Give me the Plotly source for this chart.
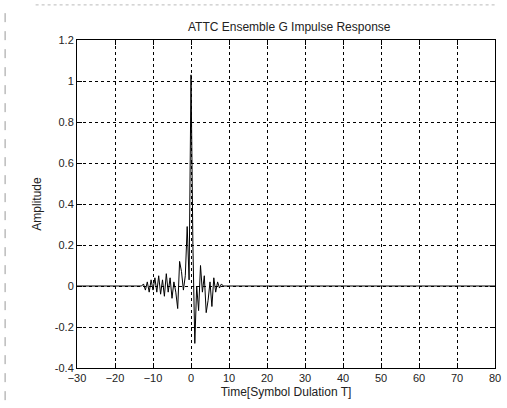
import plotly.graph_objects as go

# Time axis in symbol durations (T) and impulse response amplitude
time = [-30, -13, -12.5, -12, -11.5, -11, -10.5, -10, -9.5, -9, -8.5, -8, -7.5, -7,
        -6.5, -6, -5.5, -5, -4.5, -4, -3.5, -3, -2.5, -2, -1.5, -1, -0.5, 0, 0.5,
        1, 1.5, 2, 2.5, 3, 3.5, 4, 4.5, 5, 5.5, 6, 6.5, 7, 7.5, 8, 8.5, 9, 80]
amplitude = [0.0, 0.0, 0.01, -0.02, 0.02, -0.03, 0.03, -0.02, 0.04, -0.03, 0.05, -0.04,
             0.03, -0.05, 0.06, -0.03, 0.04, -0.06, 0.02, -0.03, -0.11, 0.12, 0.07,
             -0.02, 0.05, 0.29, 0.03, 1.03, 0.2, -0.28, 0.0, -0.12, 0.1, -0.03, 0.05,
             -0.13, -0.07, 0.02, -0.1, 0.04, -0.03, 0.02, -0.01, 0.01, 0.0, 0.0, 0.0]

x_ticks = [-30, -20, -10, 0, 10, 20, 30, 40, 50, 60, 70, 80]
y_ticks = [-0.4, -0.2, 0, 0.2, 0.4, 0.6, 0.8, 1, 1.2]
y_tick_text = ["-0.4", "-0.2", "0", "0.2", "0.4", "0.6", "0.8", "1", "1.2"]

fig = go.Figure()
fig.add_trace(go.Scatter(x=time, y=amplitude, mode="lines",
                         line=dict(color="black", width=1), showlegend=False))

font = "Liberation Sans, Arial, sans-serif"
axis_common = dict(
    showline=True, linecolor="black", linewidth=1, mirror="ticks",
    ticks="inside", ticklen=5, tickcolor="black",
    showgrid=True, gridcolor="black", gridwidth=1, griddash="dot",
    zeroline=False, tickfont=dict(family=font, size=11, color="#222"),
    ticklabeloverflow="allow",
)

fig.update_xaxes(range=[-30, 80], tickvals=x_ticks, **axis_common,
                 title=dict(text="Time[Symbol Dulation T]", standoff=4,
                            font=dict(family=font, size=12, color="#222")))
fig.update_yaxes(range=[-0.4, 1.2], tickvals=y_ticks, ticktext=y_tick_text, **axis_common,
                 title=dict(text="Amplitude", standoff=10,
                            font=dict(family=font, size=12, color="#222")))

fig.update_layout(
    width=507, height=408,
    margin=dict(l=77, r=6, t=40, b=40),
    paper_bgcolor="white", plot_bgcolor="white",
    title=dict(text="ATTC Ensemble G Impulse Response", x=0.5705, xanchor="center",
               y=1 - 27 / 408, yanchor="middle",
               font=dict(family=font, size=12, color="#222")),
    shapes=[
        dict(type="line", xref="paper", yref="paper", x0=-0.172, x1=-0.172,
             y0=-0.098, y1=1.107, line=dict(color="#999", width=1, dash="dash")),
        dict(type="line", xref="paper", yref="paper", x0=-0.099, x1=1.0,
             y0=1.107, y1=1.107, line=dict(color="#bbb", width=1, dash="dot")),
    ],
)

fig.write_html("out.html")
